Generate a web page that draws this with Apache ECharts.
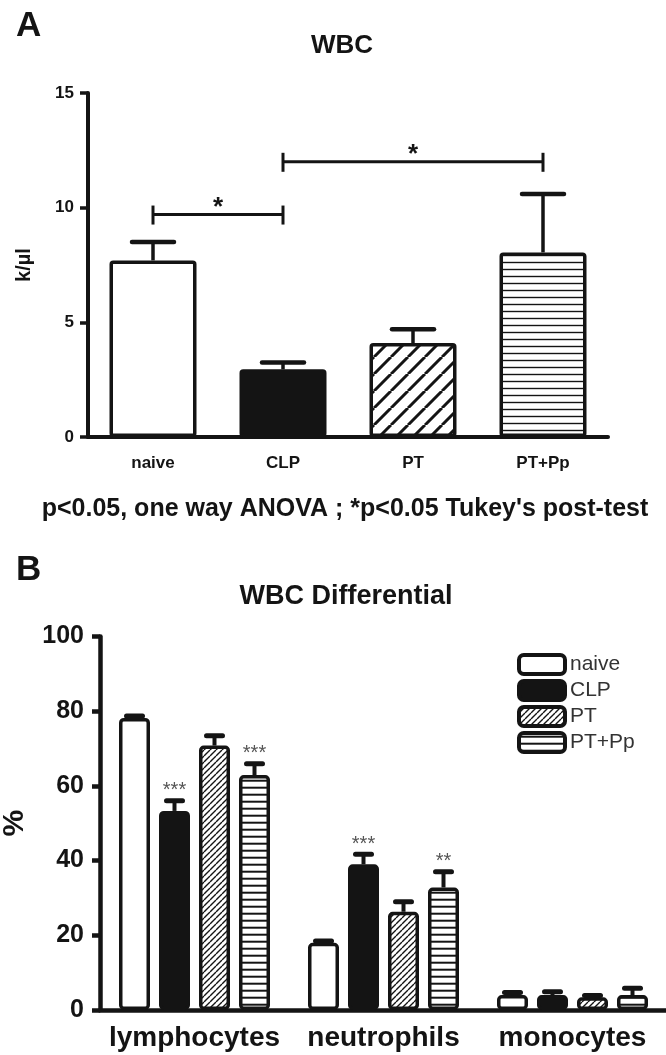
<!DOCTYPE html>
<html><head><meta charset="utf-8">
<script src="https://cdn.jsdelivr.net/npm/echarts@6/dist/echarts.min.js"></script>
<style>html,body{margin:0;padding:0;background:#fff}#c{width:666px;height:1055px}</style>
</head><body><div id="c"></div>
<script>
// ---------- Panel A data ----------
const catsA = ['naive', 'CLP', 'PT', 'PT+Pp'];
const meanA = [7.7, 2.95, 4.1, 8.05];
const semA  = [0.8, 0.3, 0.6, 2.55];
// [fromCategory, toCategory, y, label]
const bracketsA = [[0, 1, 9.7, '*'], [1, 3, 12.0, '*']];
const yMaxA = 15, yStepA = 5;

// ---------- Panel B data ----------
const catsB   = ['lymphocytes', 'neutrophils', 'monocytes'];
const groupsB = ['naive', 'CLP', 'PT', 'PT+Pp'];
const naiveB     = [78.2, 18.0, 4.0];
const naiveSemB  = [0.5, 0.5, 0.7];
const clpB       = [53.3, 39.0, 4.0];
const clpSemB    = [2.7, 2.7, 0.9];
const ptB        = [70.8, 26.3, 3.4];
const ptSemB     = [2.6, 2.7, 0.5];
const ptppB      = [62.9, 32.8, 4.0];
const ptppSemB   = [3.0, 4.2, 1.8];
const starsNaiveB = ['', '', ''];
const starsClpB   = ['***', '***', ''];
const starsPtB    = ['', '', ''];
const starsPtppB  = ['***', '**', ''];
const yMaxB = 100, yStepB = 20;

// ---------- styling ----------
const F = '"Liberation Sans", Arial, sans-serif';
const INK = '#141414';

function pattern(size, lw, type) {
  const c = document.createElement('canvas');
  c.width = size; c.height = size;
  const g = c.getContext('2d');
  g.fillStyle = '#ffffff'; g.fillRect(0, 0, size, size);
  g.strokeStyle = INK; g.lineWidth = lw;
  g.beginPath();
  if (type === 'diag') {
    for (const k of [-size, 0, size]) { g.moveTo(k, size); g.lineTo(k + size, 0); }
  } else {
    g.moveTo(0, size / 2); g.lineTo(size, size / 2);
  }
  g.stroke();
  return { image: c, repeat: 'repeat' };
}

const fillA = ['#ffffff', INK, pattern(17, 3, 'diag'), pattern(7, 1.4, 'h')];
const fillB = ['#ffffff', INK, pattern(6, 1.4, 'diag'), pattern(7.4, 2.0, 'h')];

const meansB = [naiveB, clpB, ptB, ptppB];
const semsB  = [naiveSemB, clpSemB, ptSemB, ptppSemB];
const starsB = [starsNaiveB, starsClpB, starsPtB, starsPtppB];

const BW_B = 31, GAP_B = 9;

const chart = echarts.init(document.getElementById('c'), null, { renderer: 'canvas' });

const series = [];

// Panel A bars
series.push({
  type: 'bar', name: 'WBC', xAxisIndex: 0, yAxisIndex: 0,
  barWidth: 87,
  data: meanA.map((v, i) => ({ value: v, itemStyle: { color: fillA[i] } })),
  itemStyle: { borderColor: INK, borderWidth: 3.5, borderRadius: 2 },
  silent: true, animation: false
});
// Panel A error bars
series.push({
  type: 'custom', xAxisIndex: 0, yAxisIndex: 0, z: 5, silent: true, animation: false,
  data: meanA.map((m, i) => [i, m, semA[i]]),
  encode: { x: 0, y: 1 },
  renderItem(params, api) {
    const i = api.value(0), m = api.value(1), s = api.value(2);
    const b = api.coord([i, m]), t = api.coord([i, m + s]);
    return { type: 'group', children: [
      { type: 'line', shape: { x1: b[0], y1: b[1], x2: t[0], y2: t[1] }, style: { stroke: INK, lineWidth: 3.5 } },
      { type: 'line', shape: { x1: t[0] - 21, y1: t[1], x2: t[0] + 21, y2: t[1] }, style: { stroke: INK, lineWidth: 4.5, lineCap: 'round' } }
    ]};
  }
});
// Panel A significance brackets
series.push({
  type: 'custom', xAxisIndex: 0, yAxisIndex: 0, z: 5, silent: true, animation: false,
  data: bracketsA.map(d => [d[0], d[2], d[1], d[3]]),
  encode: { x: 0, y: 1 },
  renderItem(params, api) {
    const d = bracketsA[params.dataIndex];
    const p1 = api.coord([d[0], d[2]]), p2 = api.coord([d[1], d[2]]);
    const y = p1[1];
    return { type: 'group', children: [
      { type: 'line', shape: { x1: p1[0], y1: y, x2: p2[0], y2: y }, style: { stroke: INK, lineWidth: 3 } },
      { type: 'line', shape: { x1: p1[0], y1: y - 9, x2: p1[0], y2: y + 10 }, style: { stroke: INK, lineWidth: 3 } },
      { type: 'line', shape: { x1: p2[0], y1: y - 9, x2: p2[0], y2: y + 10 }, style: { stroke: INK, lineWidth: 3 } },
      { type: 'text', x: (p1[0] + p2[0]) / 2, y: y + 6, style: { text: d[3], fill: INK, font: 'bold 26px ' + F, align: 'center', verticalAlign: 'bottom' } }
    ]};
  }
});

// Panel B bars
groupsB.forEach((g, k) => {
  series.push({
    type: 'bar', name: g, xAxisIndex: 1, yAxisIndex: 1,
    barWidth: BW_B, barGap: (GAP_B / BW_B * 100) + '%',
    data: meansB[k],
    itemStyle: { color: fillB[k], borderColor: INK, borderWidth: 3.5, borderRadius: 3 },
    silent: true, animation: false
  });
});
// Panel B error bars + stars
groupsB.forEach((g, k) => {
  const off = (k - 1.5) * (BW_B + GAP_B);
  series.push({
    type: 'custom', xAxisIndex: 1, yAxisIndex: 1, z: 5, silent: true, animation: false,
    data: meansB[k].map((m, i) => [i, m, semsB[k][i]]),
    encode: { x: 0, y: 1 },
    renderItem(params, api) {
      const i = api.value(0), m = api.value(1), s = api.value(2);
      const b = api.coord([i, m]), t = api.coord([i, m + s]);
      const x = b[0] + off;
      const ch = [
        { type: 'line', shape: { x1: x, y1: b[1], x2: x, y2: t[1] }, style: { stroke: INK, lineWidth: 4 } },
        { type: 'line', shape: { x1: x - 8, y1: t[1], x2: x + 8, y2: t[1] }, style: { stroke: INK, lineWidth: 5, lineCap: 'round' } }
      ];
      const st = starsB[k][params.dataIndex];
      if (st) ch.push({ type: 'text', x: x, y: t[1], style: { text: st, fill: '#555', font: '20px ' + F, align: 'center', verticalAlign: 'bottom' } });
      return { type: 'group', children: ch };
    }
  });
});

const option = {
  backgroundColor: '#ffffff',
  animation: false,
  title: [
    { text: 'A', left: 11, top: 4, textStyle: { fontSize: 35, fontWeight: 'bold', color: INK, fontFamily: F } },
    { text: 'WBC', left: 337, top: 28, textAlign: 'center', textStyle: { fontSize: 26, fontWeight: 'bold', color: INK, fontFamily: F } },
    { text: "p<0.05, one way ANOVA ; *p<0.05 Tukey's post-test", left: 340, top: 492, textAlign: 'center', textStyle: { fontSize: 25, fontWeight: 'bold', color: INK, fontFamily: F } },
    { text: 'B', left: 11, top: 548, textStyle: { fontSize: 35, fontWeight: 'bold', color: INK, fontFamily: F } },
    { text: 'WBC Differential', left: 341, top: 578, textAlign: 'center', textStyle: { fontSize: 27, fontWeight: 'bold', color: INK, fontFamily: F } }
  ],
  legend: {
    data: groupsB, orient: 'vertical', left: 517, top: 653, padding: 0,
    itemWidth: 46, itemHeight: 19, itemGap: 3, icon: 'roundRect',
    itemStyle: { borderColor: INK, borderWidth: 4 },
    textStyle: { fontSize: 21, lineHeight: 18, color: '#333', fontFamily: F },
    selectedMode: false
  },
  grid: [
    { left: 88, top: 93, width: 520, height: 344, outerBoundsMode: 'none', containLabel: false },
    { left: 100, top: 636.5, width: 567, height: 373.5, outerBoundsMode: 'none', containLabel: false }
  ],
  xAxis: [
    { type: 'category', gridIndex: 0, data: catsA,
      axisLine: { lineStyle: { color: INK, width: 4 } },
      axisTick: { alignWithLabel: true, length: 8, lineStyle: { color: INK, width: 3.5 } },
      axisLabel: { margin: 18, fontSize: 17, fontWeight: 'bold', color: INK, fontFamily: F, interval: 0 } },
    { type: 'category', gridIndex: 1, data: catsB,
      axisLine: { lineStyle: { color: INK, width: 4.5 } },
      axisTick: { alignWithLabel: true, length: 9, lineStyle: { color: INK, width: 4.5 } },
      axisLabel: { margin: 14, fontSize: 28, fontWeight: 'bold', color: INK, fontFamily: F, interval: 0, hideOverlap: false } }
  ],
  yAxis: [
    { type: 'value', gridIndex: 0, min: 0, max: yMaxA, interval: yStepA,
      name: 'k/µl', nameLocation: 'middle', nameGap: 54, nameRotate: 90,
      nameTextStyle: { fontSize: 20, fontWeight: 'bold', color: INK, fontFamily: F },
      splitLine: { show: false },
      axisLine: { show: true, lineStyle: { color: INK, width: 4 } },
      axisTick: { show: true, length: 8, lineStyle: { color: INK, width: 3.5 } },
      axisLabel: { margin: 14, fontSize: 17, fontWeight: 'bold', color: INK, fontFamily: F } },
    { type: 'value', gridIndex: 1, min: 0, max: yMaxB, interval: yStepB,
      name: '%', nameLocation: 'middle', nameGap: 70, nameRotate: 90,
      nameTextStyle: { fontSize: 30, fontWeight: 'bold', color: INK, fontFamily: F },
      splitLine: { show: false },
      axisLine: { show: true, lineStyle: { color: INK, width: 4.5 } },
      axisTick: { show: true, length: 8, lineStyle: { color: INK, width: 4.5 } },
      axisLabel: { margin: 16, fontSize: 25, fontWeight: 'bold', color: INK, fontFamily: F } }
  ],
  series
};
chart.setOption(option);
</script>
</body></html>
